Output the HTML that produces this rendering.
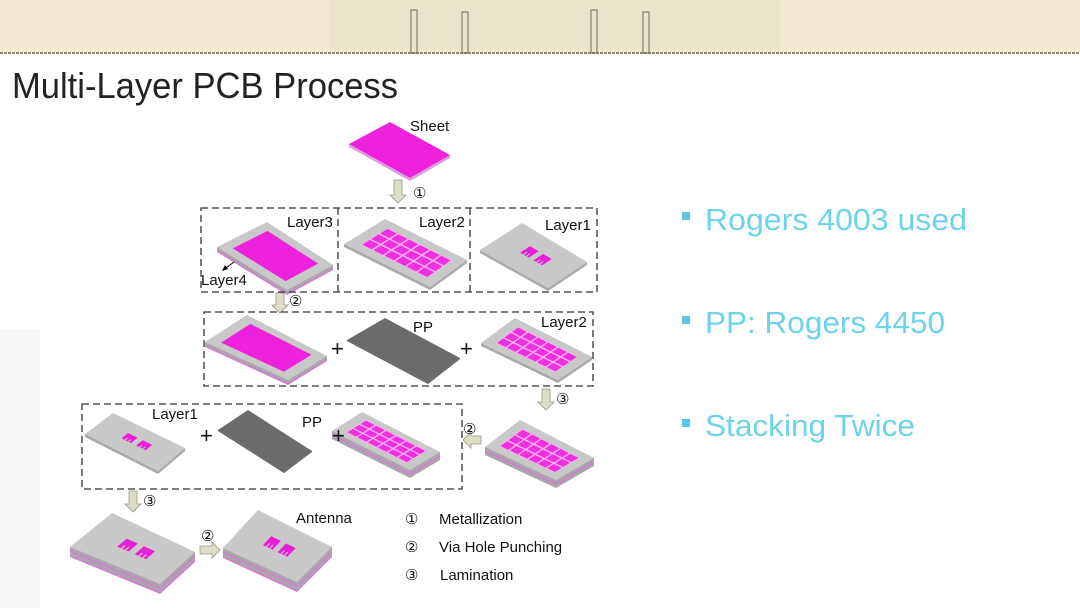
<!DOCTYPE html>
<html><head><meta charset="utf-8"><style>
html,body{margin:0;padding:0;background:#fff}
body{width:1080px;height:608px;overflow:hidden;position:relative;font-family:"Liberation Sans",sans-serif}
</style></head><body>
<svg id="s" width="1080" height="608" xmlns="http://www.w3.org/2000/svg" style="position:absolute;left:0;top:0">
<rect x="0" y="0" width="1080" height="53" fill="#f1ead0"/>
<rect x="330" y="0" width="450" height="50" fill="#e6e0c4" opacity="0.6"/>
<line x1="0" y1="53" x2="1080" y2="53" stroke="#8a8675" stroke-width="2" stroke-dasharray="3,1"/>
<g stroke="#6d6a60" stroke-width="1" fill="none">
<rect x="411" y="10" width="6" height="43"/><rect x="462" y="12" width="6" height="41"/>
<rect x="591" y="10" width="6" height="43"/><rect x="643" y="12" width="6" height="41"/>
</g>
<text x="12" y="98" font-size="36" fill="#222" font-family="Liberation Sans Narrow, Liberation Sans" textLength="386" lengthAdjust="spacingAndGlyphs">Multi-Layer PCB Process</text>
<g fill="#f6f6f6"><rect x="0" y="330" width="40" height="280"/></g>
<g fill="#55c8e6"><rect x="682" y="212" width="8" height="8"/><rect x="682" y="316" width="8" height="8"/><rect x="682" y="419" width="8" height="8"/></g>
<g fill="#6dd3ea" font-size="31">
<text x="705" y="230" textLength="262" lengthAdjust="spacingAndGlyphs">Rogers 4003 used</text>
<text x="705" y="333" textLength="240" lengthAdjust="spacingAndGlyphs">PP: Rogers 4450</text>
<text x="705" y="436" textLength="210" lengthAdjust="spacingAndGlyphs">Stacking Twice</text>
</g>
<g id="d"></g>
<g fill="none" stroke="#333" stroke-width="1.3" stroke-dasharray="7,4">
<rect x="201" y="208" width="396" height="84"/>
<line x1="338" y1="208" x2="338" y2="292"/><line x1="470" y1="208" x2="470" y2="292"/>
<rect x="204" y="312" width="389" height="74"/>
<rect x="82" y="404" width="380" height="85"/>
</g>
<g font-size="15" fill="#111">
<text x="410" y="131">Sheet</text>
<text x="287" y="227">Layer3</text><text x="419" y="227">Layer2</text><text x="545" y="230">Layer1</text>
<text x="201" y="285">Layer4</text>
<text x="413" y="332">PP</text><text x="541" y="327">Layer2</text>
<text x="152" y="419">Layer1</text><text x="302" y="427">PP</text>
<text x="296" y="523">Antenna</text>
<text x="405" y="524">①</text><text x="439" y="524">Metallization</text>
<text x="405" y="552">②</text><text x="439" y="552">Via Hole Punching</text>
<text x="405" y="580">③</text><text x="440" y="580">Lamination</text>
<text x="413" y="198">①</text><text x="289" y="306">②</text><text x="556" y="404">③</text>
<text x="463" y="434">②</text><text x="143" y="506">③</text><text x="201" y="541">②</text>
</g>
<g font-size="22" fill="#111"><text x="331" y="356">+</text><text x="460" y="356">+</text><text x="200" y="443">+</text><text x="332" y="443">+</text></g>
<line x1="234" y1="262" x2="223" y2="270" stroke="#000" stroke-width="1"/>
<polygon points="222,271 225,265 228,269" fill="#000"/>
</svg>
<script>
var g=document.getElementById('d'),h='';
function P(a){return a.map(function(p){return p[0].toFixed(1)+','+p[1].toFixed(1)}).join(' ')}
function poly(pts,f,st){h+='<polygon points="'+P(pts)+'" fill="'+f+'"'+(st?' stroke="'+st+'" stroke-width="0.7"':'')+'/>';}
var CR;
function at(L,T,B,u,v){var R=CR;return [L[0]+u*(T[0]-L[0])+v*(B[0]-L[0])+u*v*(R[0]-T[0]-B[0]+L[0]),L[1]+u*(T[1]-L[1])+v*(B[1]-L[1])+u*v*(R[1]-T[1]-B[1]+L[1])];}
function quad(L,T,B,u0,u1,v0,v1){return [at(L,T,B,u0,v0),at(L,T,B,u1,v0),at(L,T,B,u1,v1),at(L,T,B,u0,v1)];}
function board(L,T,R,B,layers,top,content){
 CR=R;
 var tot=0;layers.forEach(function(l){tot+=l[1]});
 var off=tot;
 for(var i=layers.length-1;i>=0;i--){var d=layers[i][1];
  poly([L,B,R,[R[0],R[1]+off],[B[0],B[1]+off],[L[0],L[1]+off]],layers[i][0]);off-=d;}
 poly([L,T,R,B],top);
 if(content=='full'||content=='fulldots')poly(quad(L,T,B,0.15,0.85,0.12,0.88),'#ee22dd');
 if(content=='grid'){for(var a=0;a<3;a++)for(var b=0;b<6;b++){var u0=0.18+a*0.22,v0=0.12+b*0.13;poly(quad(L,T,B,u0,u0+0.2,v0,v0+0.12),'#f030e0','#ffb0f8');}}
 if(content=='mm'){[[0.4,0.35],[0.4,0.55]].forEach(function(c){poly(quad(L,T,B,c[0],c[0]+0.24,c[1],c[1]+0.13),'#e81ed8');
   poly(quad(L,T,B,c[0],c[0]+0.09,c[1]+0.04,c[1]+0.055),top);poly(quad(L,T,B,c[0],c[0]+0.09,c[1]+0.085,c[1]+0.1),top);});}
}
var G='#c8c8c8',S=['#a8a8a8',3],PK=['#d080d0',2];
board([349,144],[390,122],[450,155],[410,178],[['#d9a0d9',3]],'#ee22dd','');
board([217,247],[267,222],[333,265],[287,290],[S,PK],G,'full');
board([344,244],[385,219],[467,260],[430,287],[S],G,'grid');
board([480,250],[522,223],[587,262],[548,288],[S],G,'mm');
board([205,342],[247,315],[327,356],[288,380],[S,PK],G,'fulldots');
board([347,340],[385,318],[460,358],[428,383],[['#555',1]],'#6b6b6b','');
board([481,343],[515,318],[592,357],[558,380],[S],G,'grid');
board([485,447],[520,420],[594,458],[556,480],[S,PK,S],G,'grid');
board([85,434],[113,413],[185,448],[158,471],[S],G,'mm');
board([218,430],[248,410],[312,451],[284,472],[['#555',1]],'#6b6b6b','');
board([332,431],[362,412],[440,452],[410,470],[S,PK,S],G,'grid');
board([70,547],[112,513],[195,552],[160,584],[S,PK,S,PK],G,'mm');
board([223,548],[258,510],[332,547],[297,582],[S,PK,S,PK],G,'mm');
function arrowD(x,y1,y2){h+='<polygon points="'+(x-4)+','+y1+' '+(x+4)+','+y1+' '+(x+4)+','+(y2-8)+' '+(x+8)+','+(y2-8)+' '+x+','+y2+' '+(x-8)+','+(y2-8)+' '+(x-4)+','+(y2-8)+'" fill="#dcdcc8" stroke="#9a9a88" stroke-width="0.8"/>';}
function arrowH(x1,x2,y){var s=x2>x1?1:-1;h+='<polygon points="'+x1+','+(y-4)+' '+(x2-8*s)+','+(y-4)+' '+(x2-8*s)+','+(y-8)+' '+x2+','+y+' '+(x2-8*s)+','+(y+8)+' '+(x2-8*s)+','+(y+4)+' '+x1+','+(y+4)+'" fill="#dcdcc8" stroke="#9a9a88" stroke-width="0.8"/>';}
arrowD(398,180,203);arrowD(280,293,313);arrowD(546,389,410);arrowD(133,491,512);
arrowH(481,463,440);arrowH(200,220,550);
g.innerHTML=h;
</script>
</body></html>
